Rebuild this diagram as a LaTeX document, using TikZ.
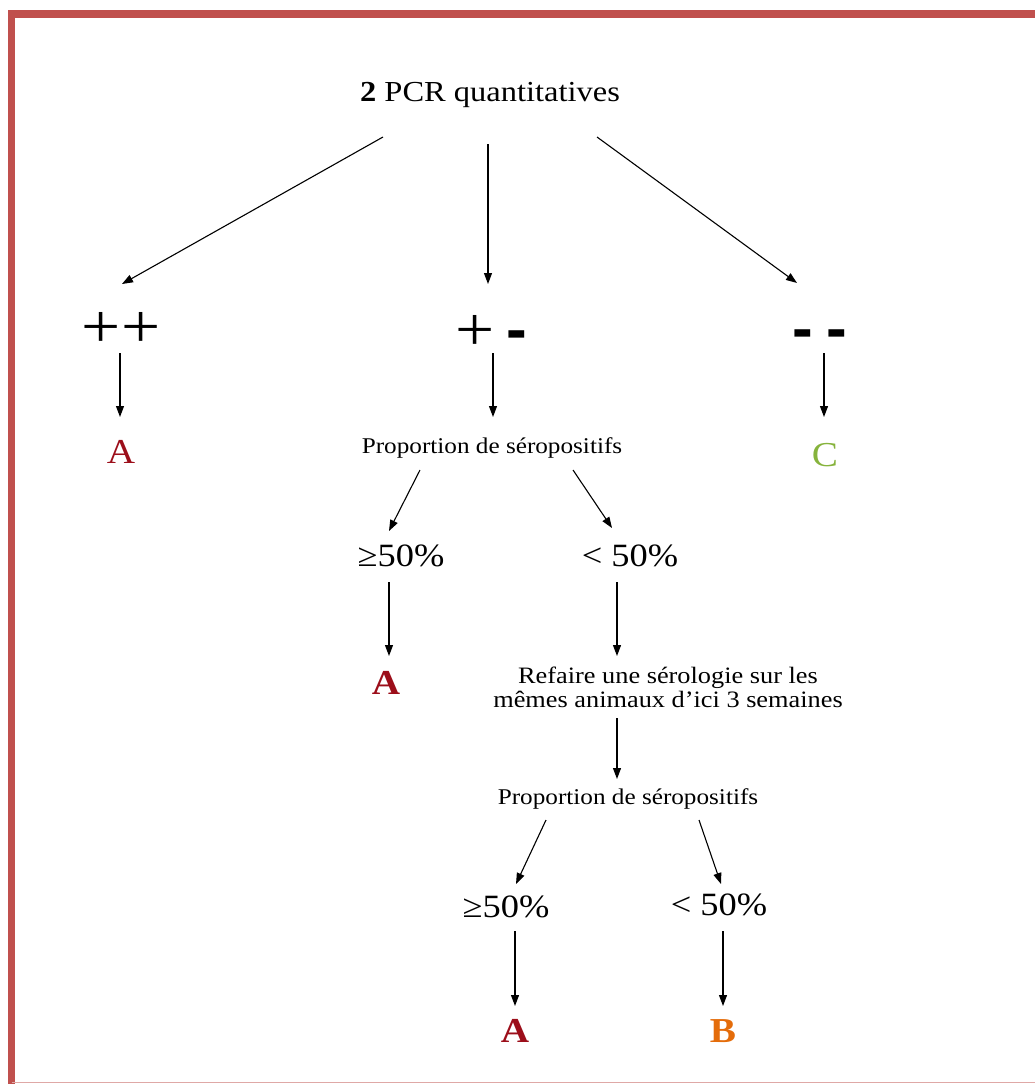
\documentclass[tikz,border=0pt]{standalone}
\usepackage{fontspec}
\setmainfont{Liberation Serif}[FakeStretch=1.12]
\newfontfamily\barfont{Liberation Sans}
\usetikzlibrary{arrows.meta}
\definecolor{myframe}{HTML}{C0504D}
\definecolor{myred}{HTML}{9C0E1A}
\definecolor{mygreen}{HTML}{86B33C}
\definecolor{myorange}{HTML}{E46C0A}

\newcommand{\minusbar}{{\barfont\bfseries -}}

\begin{document}
\begin{tikzpicture}[
    x=1pt, y=-1pt,
    arr/.style={-{Triangle[length=11pt, width=8pt]}, line width=1.1pt},
    title/.style={font=\fontsize{29}{32}\selectfont},
    txt/.style={font=\fontsize{22.5}{24}\selectfont, align=center},
    txtb/.style={font=\fontsize{23.5}{24}\selectfont, align=center},
    pct/.style={font=\fontsize{32.5}{34}\selectfont},
    sign/.style={font=\fontsize{62}{62}\selectfont},
    res/.style={font=\fontsize{35}{36}\selectfont},
]
\useasboundingbox (0,0) rectangle (1035,1084);

% frame
\draw [myframe, line width=7.5pt] (11.5,1084) -- (11.5,14) -- (1035,14);
\draw [myframe!50, line width=1.5pt] (11.5,1082.5) -- (1035,1082.5);

% nodes
\node [title] (pcr) at (490,95) {\textbf{2} PCR quantitatives};

\node [sign] (pp) at (121,330) {++};
\node [sign] (pm) at (491,333) {+\hspace{12pt}\minusbar};
\node [sign] (mm) at (820,340) {\minusbar\hspace{14pt}\minusbar};

\node [res, myred] (aA) at (121,452) {A};
\node [txt] (prop1) at (492,448) {Proportion de séropositifs};
\node [res, mygreen] (cC) at (825,455) {C};

\node [pct] (geA) at (401,556) {≥50\%};
\node [pct] (ltA) at (630,556) {< 50\%};

\node [res, myred] (aB) at (386,683) {\textbf{A}};
\node [txtb] (redo) at (668,687) {Refaire une sérologie sur les\\mêmes animaux d’ici 3 semaines};

\node [txt] (prop2) at (628,799) {Proportion de séropositifs};

\node [pct] (geB) at (506,907) {≥50\%};
\node [pct] (ltB) at (719,905) {< 50\%};

\node [res, myred] (aC) at (515,1031) {\textbf{A}};
\node [res, myorange] (bB) at (723,1031) {\textbf{B}};

% connectors
\draw [arr] ([shift={(-107,42)}]pcr.center) -- ([shift={(1,-46)}]pp.center);
\draw [arr] ([shift={(-2,49)}]pcr.center) -- ([shift={(-3,-49)}]pm.center);
\draw [arr] ([shift={(107,42)}]pcr.center) -- ([shift={(-23,-57)}]mm.center);

\draw [arr] ([shift={(-1,23)}]pp.center) -- ([shift={(-1,-35)}]aA.center);
\draw [arr] ([shift={(2,20)}]pm.center) -- ([shift={(1,-31)}]prop1.center);
\draw [arr] ([shift={(4,13)}]mm.center) -- ([shift={(-1,-38)}]cC.center);

\draw [arr] ([shift={(-72,22)}]prop1.center) -- ([shift={(-12,-25)}]geA.center);
\draw [arr] ([shift={(81,22)}]prop1.center) -- ([shift={(-18,-28)}]ltA.center);

\draw [arr] ([shift={(-12,26)}]geA.center) -- ([shift={(3,-27)}]aB.center);
\draw [arr] ([shift={(-13,26)}]ltA.center) -- ([shift={(-51,-31)}]redo.center);
\draw [arr] ([shift={(-51,31)}]redo.center) -- ([shift={(-11,-20)}]prop2.center);

\draw [arr] ([shift={(-82,21)}]prop2.center) -- ([shift={(10,-23)}]geB.center);
\draw [arr] ([shift={(71,21)}]prop2.center) -- ([shift={(2,-21)}]ltB.center);

\draw [arr] ([shift={(9,24)}]geB.center) -- ([shift={(0,-25)}]aC.center);
\draw [arr] ([shift={(4,26)}]ltB.center) -- ([shift={(0,-25)}]bB.center);
\end{tikzpicture}
\end{document}
